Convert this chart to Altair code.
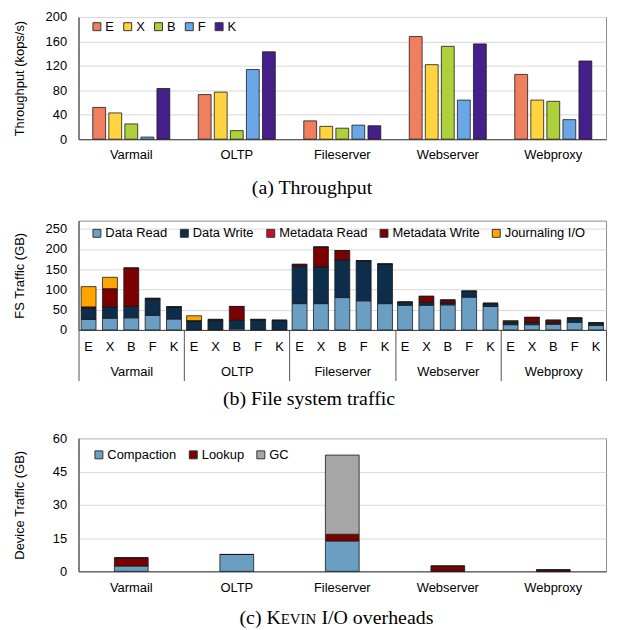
import altair as alt
import pandas as pd

FONT = "Liberation Sans"
SERIF = "Liberation Serif"

workloads = ["Varmail", "OLTP", "Fileserver", "Webserver", "Webproxy"]
systems = ["E", "X", "B", "F", "K"]

# (a) Throughput (kops/s), per system, in workload order
thr_E = [52, 73, 30, 168, 106]
thr_X = [43, 77, 21, 122, 64]
thr_B = [25, 14, 18, 152, 62]
thr_F = [3.5, 114, 23, 64, 32]
thr_K = [83, 143, 22, 156, 128]
sys_colors = ["#EF7F5E", "#FFD43F", "#ADD03B", "#6BA7E6", "#46208A"]

# (b) FS traffic (GB), workload-major, systems E X B F K within each workload
traffic_types = ["Data Read", "Data Write", "Metadata Read", "Metadata Write", "Journaling I/O"]
traffic_colors = ["#6A9EC2", "#0D2E4A", "#C8102E", "#7B0000", "#FFA500"]
data_read = [26, 29, 30, 36, 27, 1, 1, 3, 1, 1, 65, 65, 80, 72, 65, 61, 61, 62, 81, 58, 13, 13, 14, 19, 11]
data_write = [27, 28, 28, 40, 29, 21, 22, 21, 24, 22, 92, 91, 93, 98, 97, 7, 7, 5, 14, 7, 7, 6, 4, 10, 6]
meta_read = [0, 0, 0, 0, 0, 0, 0, 0, 0, 0, 0, 0, 0, 0, 0, 0, 0, 0, 0, 0, 0, 0, 0, 0, 0]
meta_write = [4, 45, 95, 2, 1, 1, 3, 34, 1, 1, 5, 49, 23, 1, 1, 1, 15, 7, 1, 1, 1, 12, 6, 0, 0]
journal = [50, 28, 0, 0, 0, 12, 0, 0, 0, 0, 0, 0, 0, 0, 0, 0, 0, 0, 0, 0, 2, 0, 0, 0, 0]

# (c) KEVIN I/O overheads (GB)
overhead_types = ["Compaction", "Lookup", "GC"]
overhead_colors = ["#6A9EC2", "#7B0000", "#A6A6A6"]
compaction = [2.4, 7.6, 13.7, 0, 0]
lookup = [3.7, 0, 3.0, 2.4, 0.7]
gc = [0, 0, 35.7, 0, 0]

W = 531
HA, HB, HC = 123, 110, 134

# ---------- data frames ----------
rows_a = []
for s, vals in zip(systems, [thr_E, thr_X, thr_B, thr_F, thr_K]):
    for w, v in zip(workloads, vals):
        rows_a.append({"workload": w, "system": s, "value": v})
df_a = pd.DataFrame(rows_a)

rows_b = []
for t_i, (t, vals) in enumerate(zip(traffic_types, [data_read, data_write, meta_read, meta_write, journal])):
    for i, v in enumerate(vals):
        rows_b.append({"workload": workloads[i // 5], "system": systems[i % 5],
                       "type": t, "order": t_i, "value": v})
df_b = pd.DataFrame(rows_b)
df_letters = pd.DataFrame([{"workload": w, "system": s} for w in workloads for s in systems])

rows_c = []
for t_i, (t, vals) in enumerate(zip(overhead_types, [compaction, lookup, gc])):
    for w, v in zip(workloads, vals):
        rows_c.append({"workload": w, "type": t, "order": t_i, "value": v})
df_c = pd.DataFrame(rows_c)


def yaxis(title, values):
    return alt.Axis(title=title, values=values, ticks=False, labelPadding=12,
                    minExtent=46, maxExtent=46, titlePadding=6, domainColor="#404040",
                    gridColor="#d9d9d9", labelFontSize=13, titleFontSize=13,
                    titleFontWeight="normal", labelColor="#000", titleColor="#000")


def legend(x, y, col_pad):
    return alt.Legend(title=None, orient="none", legendX=x, legendY=y, direction="horizontal",
                      symbolType="square", symbolSize=64, symbolStrokeColor="#333",
                      symbolStrokeWidth=1, labelFontSize=13, labelFont=FONT,
                      labelColor="#000", columnPadding=col_pad, labelOffset=2)


def caption(text, x, y, size=20, align="center"):
    return alt.Chart(pd.DataFrame({"t": [text]})).mark_text(
        font=SERIF, fontSize=size, align=align, baseline="middle", color="#000"
    ).encode(text="t:N", x=alt.value(x), y=alt.value(y))


# ---------- panel a ----------
bars_a = alt.Chart(df_a).mark_bar(stroke="#1a1a1a", strokeWidth=0.8).encode(
    x=alt.X("workload:N", sort=workloads,
            scale=alt.Scale(paddingInner=0.27, paddingOuter=0.135),
            axis=alt.Axis(title=None, labelAngle=0, ticks=False, labelPadding=9,
                          labelFontSize=13, domainColor="#404040", grid=False, labelColor="#000")),
    xOffset=alt.XOffset("system:N", sort=systems, scale=alt.Scale(paddingInner=0.2, paddingOuter=0)),
    y=alt.Y("value:Q", scale=alt.Scale(domain=[0, 200], nice=False),
            axis=yaxis("Throughput (kops/s)", [0, 40, 80, 120, 160, 200])),
    color=alt.Color("system:N", sort=systems,
                    scale=alt.Scale(domain=systems, range=sys_colors),
                    legend=legend(12, 3, 7)),
)
panel_a = alt.layer(bars_a, caption("(a) Throughput", 235, 172)).properties(width=W, height=HA)

# ---------- panel b ----------
bars_b = alt.Chart(df_b).mark_bar(stroke="#1a1a1a", strokeWidth=0.8).encode(
    x=alt.X("workload:N", sort=workloads,
            scale=alt.Scale(paddingInner=0, paddingOuter=0),
            axis=alt.Axis(title=None, labelAngle=0, ticks=True, tickBand="extent", tickSize=51,
                          tickColor="#555", labelPadding=-15, labelFontSize=13,
                          domainColor="#404040", grid=False, labelColor="#000")),
    xOffset=alt.XOffset("system:N", sort=systems, scale=alt.Scale(paddingInner=0.3, paddingOuter=0.12)),
    y=alt.Y("value:Q", stack="zero", scale=alt.Scale(domain=[0, 270], nice=False),
            axis=yaxis("FS Traffic (GB)", [0, 50, 100, 150, 200, 250])),
    color=alt.Color("type:N", sort=traffic_types,
                    scale=alt.Scale(domain=traffic_types, range=traffic_colors),
                    legend=legend(12, 6, 10)),
    order=alt.Order("order:Q", sort="ascending"),
)
letters_b = alt.Chart(df_letters).mark_text(font=FONT, fontSize=13, baseline="middle", color="#000").encode(
    x=alt.X("workload:N", sort=workloads),
    xOffset=alt.XOffset("system:N", sort=systems),
    y=alt.value(HB + 17),
    text="system:N",
)
panel_b = alt.layer(bars_b, letters_b, caption("(b) File system traffic", 232, 180)).properties(width=W, height=HB)

# ---------- panel c ----------
bars_c = alt.Chart(df_c).mark_bar(stroke="#1a1a1a", strokeWidth=0.8).encode(
    x=alt.X("workload:N", sort=workloads,
            scale=alt.Scale(paddingInner=0.68, paddingOuter=0.34),
            axis=alt.Axis(title=None, labelAngle=0, ticks=False, labelPadding=10,
                          labelFontSize=13, domainColor="#404040", grid=False, labelColor="#000")),
    y=alt.Y("value:Q", stack="zero", scale=alt.Scale(domain=[0, 60], nice=False),
            axis=yaxis("Device Traffic (GB)", [0, 15, 30, 45, 60])),
    color=alt.Color("type:N", sort=overhead_types,
                    scale=alt.Scale(domain=overhead_types, range=overhead_colors),
                    legend=legend(14, 10, 10)),
    order=alt.Order("order:Q", sort="ascending"),
)
cap_c1 = caption("(c) K", 162, 181, align="left")
cap_c2 = caption("EVIN", 203.5, 182, size=15, align="left")
cap_c3 = caption("I/O overheads", 244.5, 181, align="left")
panel_c = alt.layer(bars_c, cap_c1, cap_c2, cap_c3).properties(width=W, height=HC)

chart = alt.vconcat(panel_a, panel_b, panel_c, spacing=21).resolve_scale(
    color="independent", x="independent", y="independent", xOffset="independent"
).properties(
    padding={"left": 5, "top": 0, "right": 5, "bottom": 0}
).configure_view(stroke="#8c8c8c").configure_axis(
    labelFont=FONT, titleFont=FONT
).configure_legend(padding=0)

chart.save("out.html", embed_options={"renderer": "svg", "actions": False})
